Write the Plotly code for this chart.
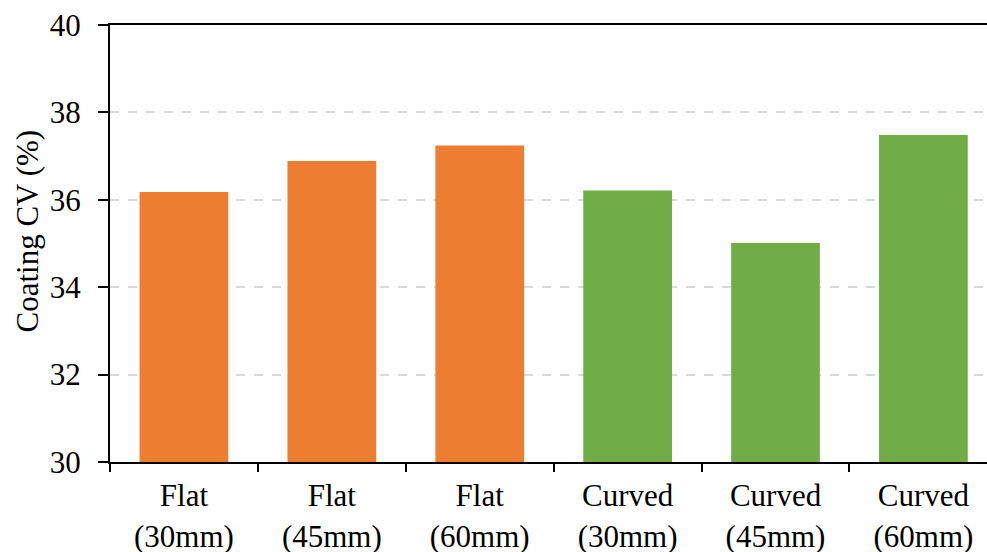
import plotly.graph_objects as go

# Coating coefficient of variation by substrate shape and nozzle distance
categories = ["Flat<br>(30mm)", "Flat<br>(45mm)", "Flat<br>(60mm)",
              "Curved<br>(30mm)", "Curved<br>(45mm)", "Curved<br>(60mm)"]
coating_cv = [36.18, 36.89, 37.24, 36.21, 35.01, 37.48]
bar_colors = ["#ED7D31", "#ED7D31", "#ED7D31", "#70AD47", "#70AD47", "#70AD47"]

y_ticks = [30, 32, 34, 36, 38, 40]
y_title = "Coating CV (%)"

FONT = "Liberation Serif, Times New Roman, serif"
FS = 31

# plot-area geometry in pixels
L, T, B, W, H = 110, 25, 90, 987, 552
plot_w = W - L
plot_h = H - T - B

fig = go.Figure(
    go.Bar(
        x=categories,
        y=coating_cv,
        marker=dict(color=bar_colors, line=dict(width=0)),
        width=0.6,
    )
)

fig.update_layout(
    width=W,
    height=H,
    margin=dict(l=L, r=0, t=T, b=B, autoexpand=False),
    paper_bgcolor="white",
    plot_bgcolor="white",
    font=dict(family=FONT, size=FS, color="black"),
    showlegend=False,
)

fig.update_xaxes(
    type="category",
    range=[-0.5, 5.43],
    automargin=False,
    showline=True,
    linecolor="black",
    linewidth=2,
    mirror=True,
    ticks="outside",
    tickson="boundaries",
    ticklen=8,
    tickwidth=2,
    tickcolor="black",
    showgrid=False,
    ticklabelstandoff=5,
    tickfont=dict(family=FONT, size=FS, color="black"),
)

fig.update_yaxes(
    range=[30, 40],
    automargin=False,
    tickvals=y_ticks,
    ticktext=[str(v) for v in y_ticks],
    showline=True,
    linecolor="black",
    linewidth=2,
    ticks="outside",
    ticklen=10,
    tickwidth=2,
    tickcolor="black",
    showgrid=True,
    gridcolor="#d9d9d9",
    gridwidth=1.5,
    griddash="dash",
    zeroline=False,
    ticklabelstandoff=11,
    tickfont=dict(family=FONT, size=FS, color="black"),
)

# rotated y-axis title
fig.add_annotation(
    text=y_title,
    textangle=-90,
    xref="paper", yref="paper",
    x=(27 - L) / plot_w,
    y=(H - B - 231.5) / plot_h,
    xanchor="center", yanchor="middle",
    showarrow=False,
    font=dict(family=FONT, size=FS, color="black"),
)

fig.write_html("out.html")
